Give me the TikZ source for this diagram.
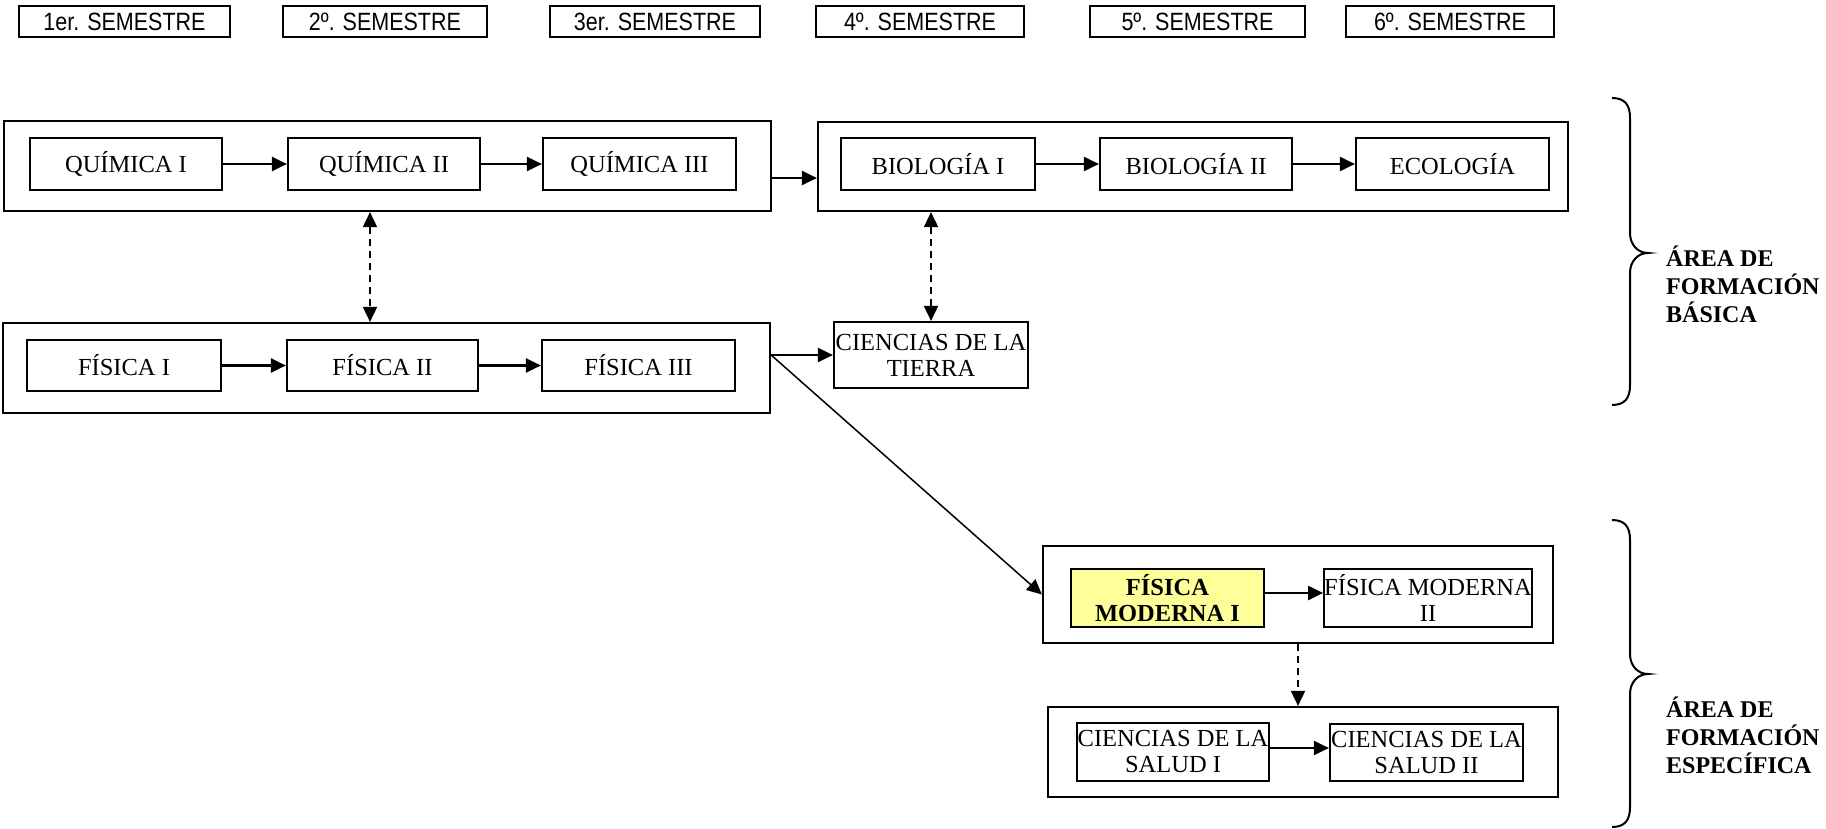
\documentclass[tikz,border=0pt]{standalone}
\usepackage{fontspec}
\setmainfont{Liberation Serif}
\newfontfamily\semfont[FakeStretch=0.86]{Liberation Sans}
\usetikzlibrary{arrows.meta,calc}
\begin{document}
\begin{tikzpicture}[x=1pt,y=-1pt,
  bx/.style={draw, line width=2.2pt, inner sep=0pt, align=center, font=\fontsize{24.5}{26}\selectfont},
  outer/.style={draw, line width=2.2pt, inner sep=0pt},
  sem/.style={draw, line width=2pt, inner sep=0pt, minimum height=31pt, font=\semfont\fontsize{25}{26}\selectfont},
  tip/.tip={Triangle[length=15pt,width=14pt]},
  arr/.style={line width=2.2pt, -tip},
  darr/.style={line width=1.8pt, dash pattern=on 7pt off 5pt, tip-tip},
  sdarr/.style={line width=1.8pt, dash pattern=on 7pt off 5pt, -tip},
  brace/.style={line width=2pt},
  area/.style={align=left, anchor=west, inner sep=0pt, font=\bfseries\fontsize{24}{28}\selectfont}
]
\useasboundingbox (0,0) rectangle (1826,829);

% semesters
\node[sem, minimum width=211pt] (s1) at (124.5,21.5) {1er. SEMESTRE};
\node[sem, minimum width=204pt] (s2) at (385,21.5) {2º. SEMESTRE};
\node[sem, minimum width=210pt] (s3) at (655,21.5) {3er. SEMESTRE};
\node[sem, minimum width=208pt] (s4) at (920,21.5) {4º. SEMESTRE};
\node[sem, minimum width=215pt] (s5) at (1197.5,21.5) {5º. SEMESTRE};
\node[sem, minimum width=208pt] (s6) at (1450,21.5) {6º. SEMESTRE};

% outer groups
\node[outer, minimum width=767pt, minimum height=90pt] (qout) at (387.5,166) {};
\node[outer, minimum width=750pt, minimum height=89pt] (bout) at (1193,166.5) {};
\node[outer, minimum width=767pt, minimum height=90pt] (fout) at (386.5,368) {};
\node[outer, minimum width=510pt, minimum height=97pt] (fmout) at (1298,594.5) {};
\node[outer, minimum width=510pt, minimum height=90pt] (csout) at (1303,752) {};

% inner boxes
\node[bx, minimum width=192pt, minimum height=52pt] (q1) at (126,164) {QUÍMICA I};
\node[bx, minimum width=192pt, minimum height=52pt] (q2) at (384,164) {QUÍMICA II};
\node[bx, minimum width=193pt, minimum height=52pt] (q3) at (639.5,164) {QUÍMICA III};
\node[bx, minimum width=194pt, minimum height=52pt] (b1) at (938,164) {BIOLOGÍA I};
\node[bx, minimum width=192pt, minimum height=52pt] (b2) at (1196,164) {BIOLOGÍA II};
\node[bx, minimum width=193pt, minimum height=52pt] (eco) at (1452.5,164) {ECOLOGÍA};
\node[bx, minimum width=194pt, minimum height=51pt] (f1) at (124,365.5) {FÍSICA I};
\node[bx, minimum width=191pt, minimum height=51pt] (f2) at (382.5,365.5) {FÍSICA II};
\node[bx, minimum width=193pt, minimum height=51pt] (f3) at (638.5,365.5) {FÍSICA III};
\node[bx, minimum width=194pt, minimum height=66pt] (tierra) at (931,355) {CIENCIAS DE LA\\TIERRA};
\node[bx, minimum width=193pt, minimum height=58pt, fill={rgb,255:red,255;green,255;blue,153}, font=\bfseries\fontsize{24.5}{26}\selectfont] (fm1) at (1167.5,598) {FÍSICA\\MODERNA I};
\node[bx, minimum width=192pt, minimum height=58pt] (fm2) at (1428,598) {FÍSICA MODERNA\\II};
\node[bx, minimum width=192pt, minimum height=58pt] (cs1) at (1173,752) {CIENCIAS DE LA\\SALUD I};
\node[bx, minimum width=193pt, minimum height=57pt] (cs2) at (1426.5,752.5) {CIENCIAS DE LA\\SALUD II};

% arrows
\draw[arr] (q1.east) -- (q2.west);
\draw[arr] (q2.east) -- (q3.west);
\draw[arr] (b1.east) -- (b2.west);
\draw[arr] (b2.east) -- (eco.west);
\draw[arr] (f1.east) -- (f2.west);
\draw[arr] (f2.east) -- (f3.west);
\draw[arr] ([yshift=-12pt]qout.east) -- ([yshift=-12pt]qout.east -| bout.west);
\draw[arr] (fout.east |- tierra.west) -- (tierra.west);
\draw[arr, line width=1.5pt] (fout.east |- tierra.west) -- (fmout.west);
\draw[arr] ([yshift=5pt]fm1.east) -- ([yshift=5pt]fm2.west);
\draw[arr] ([yshift=4pt]cs1.east) -- ([yshift=4pt]cs1.east -| cs2.west);

\coordinate (dq) at (370,0);
\draw[darr] (qout.south -| dq) -- (fout.north -| dq);
\draw[darr] (bout.south -| tierra.north) -- (tierra.north);
\draw[sdarr] (fmout.south) -- (fmout.south |- csout.north);

% braces
\draw[brace] (1612,98) .. controls (1625,98) and (1630,105) .. (1630,118) -- (1630,233)
  .. controls (1630,245) and (1638,253) .. (1648,253)
  .. controls (1638,253) and (1630,261) .. (1630,273) -- (1630,385)
  .. controls (1630,398) and (1625,405) .. (1612,405);
\draw[brace] (1612,520) .. controls (1625,520) and (1630,527) .. (1630,540) -- (1630,654)
  .. controls (1630,666) and (1638,674) .. (1648,674)
  .. controls (1638,674) and (1630,682) .. (1630,694) -- (1630,807)
  .. controls (1630,820) and (1625,827) .. (1612,827);

\node[area] (a1) at (1666,284) {ÁREA DE\\FORMACIÓN\\BÁSICA};
\node[area] (a2) at (1666,735) {ÁREA DE\\FORMACIÓN\\ESPECÍFICA};
\end{tikzpicture}
\end{document}
